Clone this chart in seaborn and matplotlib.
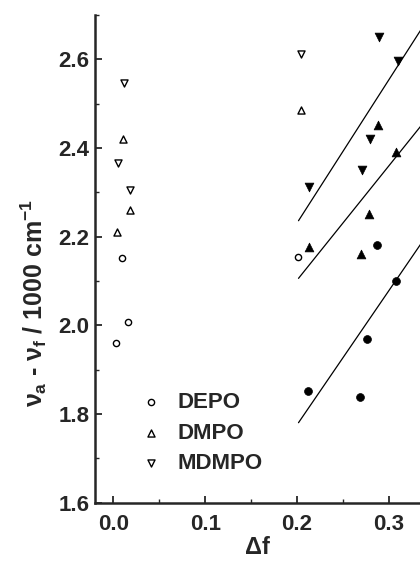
import matplotlib
matplotlib.use('Agg')
import matplotlib.pyplot as plt
import numpy as np
import seaborn as sns
from matplotlib.ticker import MultipleLocator

# open symbols (left group)
depo_open_x = [0.003, 0.010, 0.016, 0.201]
depo_open_y = [1.960, 2.152, 2.008, 2.155]
dmpo_open_x = [0.004, 0.011, 0.018, 0.204]
dmpo_open_y = [2.210, 2.420, 2.260, 2.485]
mdmpo_open_x = [0.005, 0.012, 0.018, 0.204]
mdmpo_open_y = [2.366, 2.547, 2.306, 2.612]

# filled symbols (fitted group)
depo_fill_x = [0.212, 0.2685, 0.2765, 0.2865, 0.3075]
depo_fill_y = [1.852, 1.839, 1.970, 2.181, 2.101]
dmpo_fill_x = [0.2134, 0.2696, 0.278, 0.288, 0.308]
dmpo_fill_y = [2.176, 2.162, 2.252, 2.452, 2.391]
mdmpo_fill_x = [0.213, 0.271, 0.279, 0.2895, 0.310]
mdmpo_fill_y = [2.312, 2.350, 2.420, 2.650, 2.597]

labels = ['DEPO', 'DMPO', 'MDMPO']

sns.set_style('ticks')
plt.rcParams['font.family'] = ['Liberation Sans', 'DejaVu Sans']
plt.rcParams['font.weight'] = 'bold'
plt.rcParams['mathtext.fontset'] = 'custom'
plt.rcParams['mathtext.rm'] = 'Liberation Sans:bold'
plt.rcParams['mathtext.it'] = 'Liberation Sans:bold'
plt.rcParams['mathtext.bf'] = 'Liberation Sans:bold'

fig = plt.figure(figsize=(4.2, 5.61), dpi=100)
ax = fig.add_axes([0.226, 0.104, 0.774, 0.869])

open_sets = [(depo_open_x, depo_open_y, 'o', 20),
             (dmpo_open_x, dmpo_open_y, '^', 26),
             (mdmpo_open_x, mdmpo_open_y, 'v', 26)]
fill_sets = [(depo_fill_x, depo_fill_y, 'o', 32),
             (dmpo_fill_x, dmpo_fill_y, '^', 40),
             (mdmpo_fill_x, mdmpo_fill_y, 'v', 40)]

handles = []
for (x, y, m, s), lab in zip(open_sets, labels):
    sns.scatterplot(x=x, y=y, marker=m, s=s, facecolor='white', edgecolor='black',
                    linewidth=1.0, ax=ax, zorder=3)
    handles.append(ax.collections[-1])

for x, y, m, s in fill_sets:
    sns.scatterplot(x=x, y=y, marker=m, s=s, color='black', edgecolor='black',
                    linewidth=0.5, ax=ax, zorder=3)
    # least squares line through the filled points
    k, b = np.polyfit(x, y, 1)
    xx = np.array([0.2015, 0.34])
    ax.plot(xx, k * xx + b, color='black', lw=0.9, zorder=2)

ax.set_xlim(-0.02, 0.3337)
ax.set_ylim(1.6, 2.7)
ax.xaxis.set_minor_locator(MultipleLocator(0.05))
ax.yaxis.set_minor_locator(MultipleLocator(0.1))
ax.set_xticks([0.0, 0.1, 0.2, 0.3])
ax.set_xticklabels(['0.0', '0.1', '0.2', '0.3'])
ax.set_yticks([1.6, 1.8, 2.0, 2.2, 2.4, 2.6])
ax.set_yticklabels(['1.6', '1.8', '2.0', '2.2', '2.4', '2.6'])

for side in ['top', 'right']:
    ax.spines[side].set_visible(False)
for side in ['left', 'bottom']:
    ax.spines[side].set_linewidth(1.8)
ax.tick_params(which='major', direction='in', length=5, width=1.3, labelsize=16)
ax.tick_params(which='minor', direction='in', length=3, width=1.0)
ax.tick_params(axis='y', pad=4)
ax.tick_params(axis='x', pad=8)

ax.set_xlabel('Δf', fontsize=17, fontweight='bold', labelpad=1)
ax.set_ylabel(r'$ν_a$ - $ν_f$ / 1000 cm$^{-1}$', fontsize=18, fontweight='bold')
ax.yaxis.set_label_coords(-0.14, 0.41)

ax.legend(handles, labels, loc='upper left', frameon=False,
          handlelength=1.0, handletextpad=0.7, labelspacing=0.43, borderpad=0,
          borderaxespad=0, bbox_to_anchor=(139.7 / 420, 1 - 392 / 561),
          bbox_transform=fig.transFigure, prop={'weight': 'bold', 'size': 16})

fig.savefig('out.png', dpi=100)
